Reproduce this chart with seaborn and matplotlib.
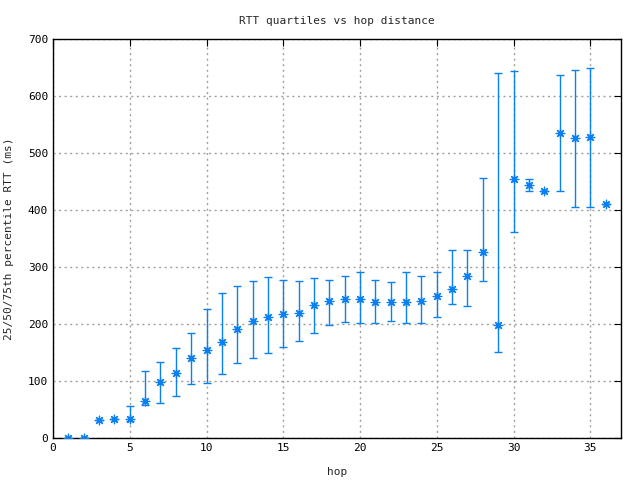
import matplotlib
matplotlib.use("Agg")
import matplotlib.pyplot as plt
import seaborn as sns
import pandas as pd

hops = list(range(1, 37))
median = [0, 0, 32, 33, 33, 65, 98, 114, 140, 154, 168, 191, 206, 212, 217, 219,
          233, 240, 244, 244, 238, 238, 238, 240, 249, 261, 285, 326, 198, 454,
          443, 433, 535, 526, 528, 410]
q25 = [0, 0, 32, 33, 30, 58, 61, 73, 94, 96, 112, 131, 140, 149, 159, 170,
       185, 198, 203, 201, 201, 205, 201, 201, 213, 235, 231, 275, 151, 361,
       434, 433, 434, 405, 405, 410]
q75 = [0, 0, 32, 33, 56, 117, 133, 158, 184, 227, 254, 266, 275, 282, 277, 275,
       280, 277, 285, 292, 278, 273, 291, 284, 292, 329, 329, 456, 640, 643,
       454, 433, 636, 645, 649, 410]

df = pd.DataFrame({"hop": hops, "median": median, "q25": q25, "q75": q75})

sns.set_style("white")
plt.rcParams['font.family'] = ['DejaVu Sans Mono', 'DejaVu Sans']

color = "#0a80f2"
fig = plt.figure(figsize=(6.4, 4.8), dpi=100)
ax = fig.add_axes([53/640, 1-438/480, (621-53)/640, (438-39)/480])

ax.errorbar(df["hop"], df["median"],
            yerr=[df["median"] - df["q25"], df["q75"] - df["median"]],
            fmt="none", ecolor=color, elinewidth=1.0, capsize=3, capthick=1.0,
            zorder=3)
sns.scatterplot(data=df, x="hop", y="median", ax=ax, marker=(8, 2, 0), s=38,
                color=color, edgecolor=color, linewidth=0.9, zorder=4,
                legend=False)

ax.set_xlim(0, 37)
ax.set_ylim(0, 700)
ax.set_xticks(range(0, 36, 5))
ax.set_yticks(range(0, 701, 100))
ax.grid(True, color="#a0a0a0", linestyle=(0, (1.5, 2.5)), linewidth=1)
ax.tick_params(direction="in", top=True, right=True, length=5, labelsize=8,
               colors="black")
for s in ax.spines.values():
    s.set_color("black")
    s.set_linewidth(1)
ax.set_xlabel("hop", fontsize=8, labelpad=10)
ax.set_ylabel("25/50/75th percentile RTT (ms)", fontsize=8, labelpad=10)
ax.set_title("RTT quartiles vs hop distance", fontsize=8, pad=11)

fig.savefig("out.png", dpi=100)
